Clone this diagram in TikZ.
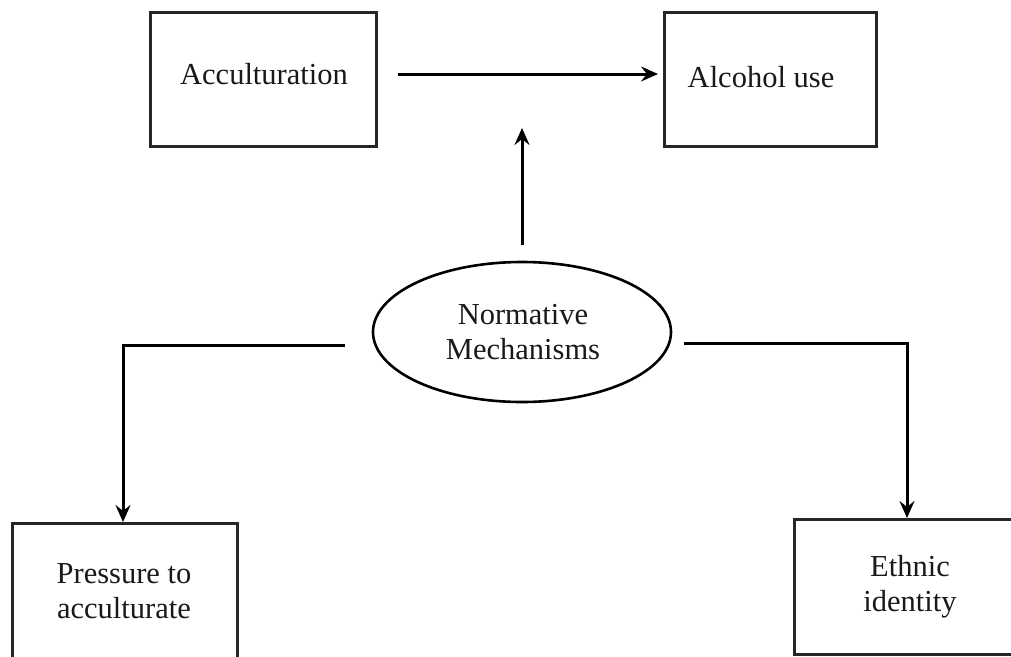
\documentclass[tikz,border=0pt]{standalone}
\usepackage{fontspec}
\setmainfont{Liberation Serif}
\usetikzlibrary{arrows.meta,shapes.geometric}
\begin{document}
\begin{tikzpicture}[x=1pt,y=-1pt,
  box/.style={draw=black!85,line width=3pt,rectangle,inner sep=0pt},
  lbl/.style={inner sep=0pt,font=\fontsize{30.5}{35}\selectfont,align=center,text=black!90},
  conn/.style={draw=black,line width=3pt,-{Stealth[length=17pt,width=15pt,inset=6pt]}}]
\useasboundingbox (0,0) rectangle (1011,656);
\clip (0,0) rectangle (1011,656);
\fill[white] (0,0) rectangle (1011,656);
% boxes
\node[box,minimum width=226pt,minimum height=134pt] (acc) at (263,79) {};
\node[lbl] (acctxt) at (264,74) {Acculturation};
\node[box,minimum width=212pt,minimum height=134pt] (alc) at (770,79) {};
\node[lbl] (alctxt) at (761,77) {Alcohol use};
\node[draw=black,line width=2.6pt,ellipse,minimum width=298pt,minimum height=140pt,inner sep=0pt] (norm) at (522,332) {};
\node[lbl] (normtxt) at (523,332) {Normative\\Mechanisms};
\node[box,minimum width=225pt,minimum height=140pt] (press) at (124.5,593) {};
\node[lbl] (presstxt) at (124,591) {Pressure to\\acculturate};
\node[box,minimum width=225pt,minimum height=135pt] (eth) at (906.5,586.5) {};
\node[lbl] (ethtxt) at (910,587) {Ethnic\\identity};
% connector end points
\coordinate (a1) at (398,74);
\coordinate (a2) at (658,74);
\coordinate (v1) at (522,245);
\coordinate (v2) at (522,128);
\coordinate (l1) at (345,345);
\coordinate (r1) at (684,343);
\coordinate (pin) at (123,522);
\coordinate (ein) at (907,518);
% connectors
\draw[conn] (a1) -- (a2);
\draw[conn] (v1) -- (v2);
\draw[conn] (l1) -| (pin);
\draw[conn] (r1) -| (ein);
\end{tikzpicture}
\end{document}
